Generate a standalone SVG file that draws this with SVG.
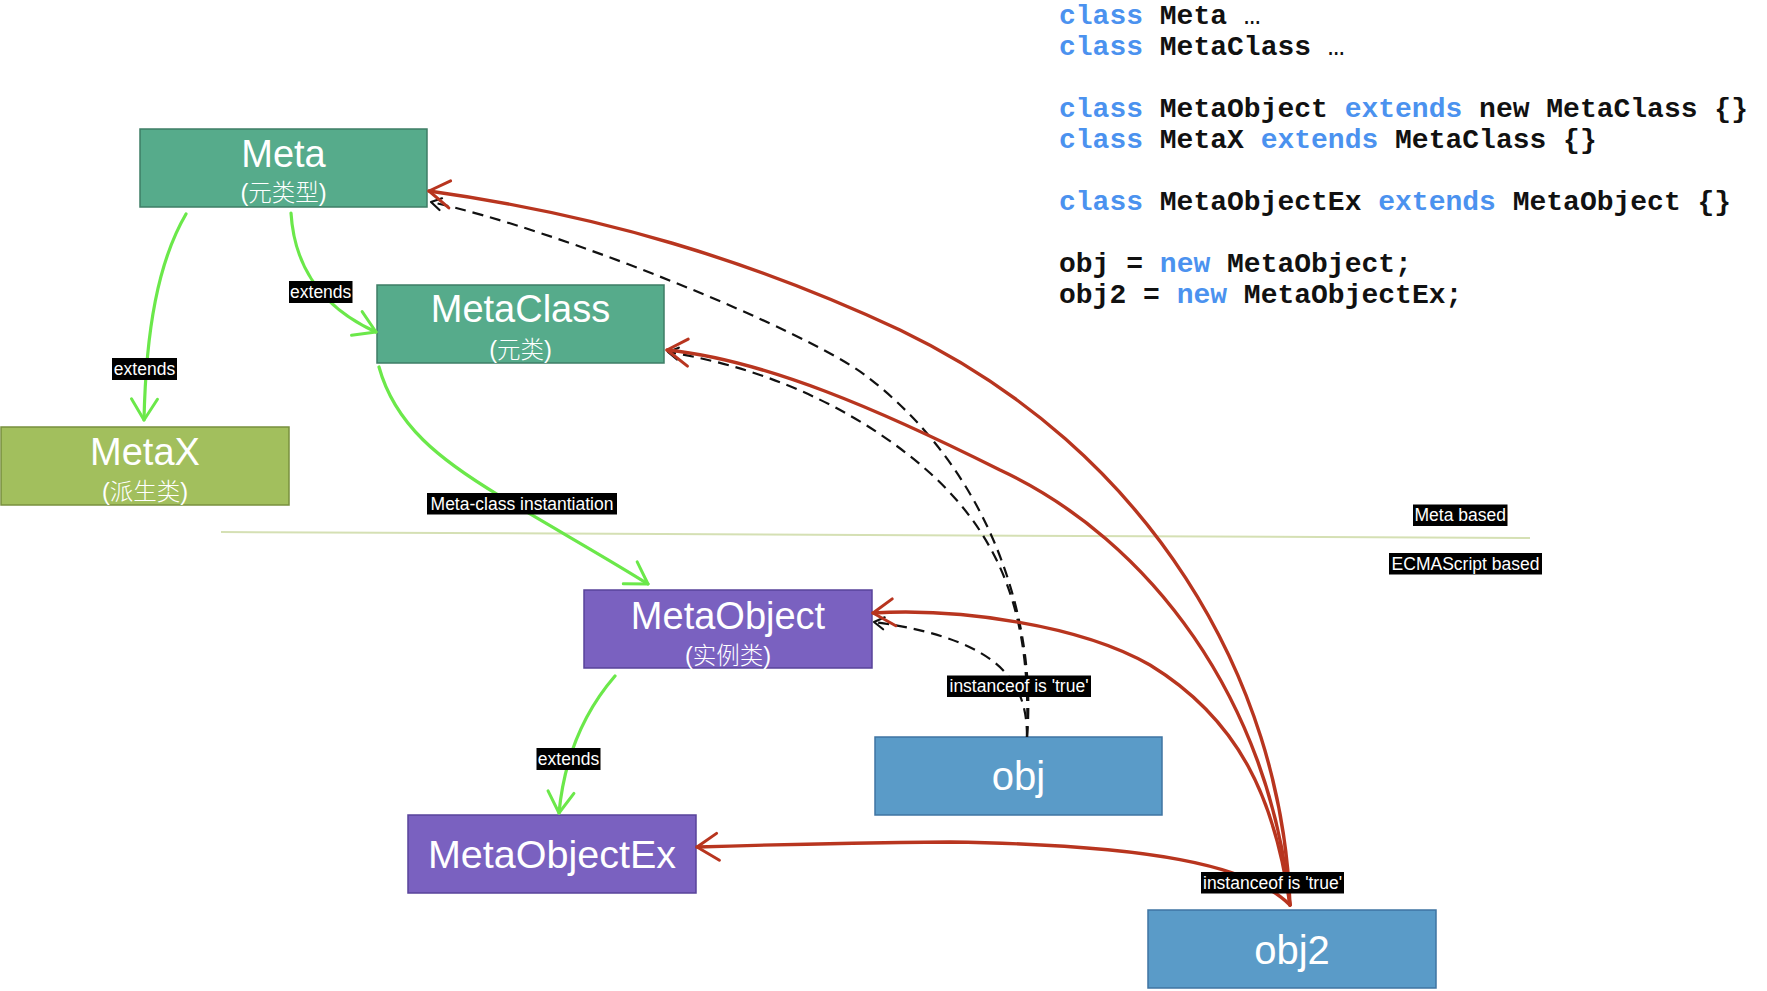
<svg xmlns="http://www.w3.org/2000/svg" width="1767" height="991" viewBox="0 0 1767 991">
<defs>
<style>
.node-title{font-family:"Liberation Sans",Arial,sans-serif;font-size:38px;fill:#fff;text-anchor:middle}
.node-sub{font-family:"Liberation Sans","Noto Sans CJK SC",sans-serif;font-size:23.5px;font-weight:300;fill:#fff;text-anchor:middle}
.green{fill:#56ab8b;stroke:#3e7d66;stroke-width:1.5}
.lime{fill:#a2bf5d;stroke:#78903e;stroke-width:1.5}
.purple{fill:#7a61c0;stroke:#58439a;stroke-width:1.5}
.blue{fill:#5a9bc8;stroke:#3f74a2;stroke-width:1.5}
.ext{fill:none;stroke:#6be84a;stroke-width:3.2;stroke-linecap:round}
.inst{fill:none;stroke:#b8351f;stroke-width:3.4;stroke-linecap:round}
.dash{fill:none;stroke:#111;stroke-width:2.2;stroke-dasharray:11 7}
.lbl-bg{fill:#000}
.lbl{font-family:"Liberation Sans",Arial,sans-serif;font-size:17.5px;fill:#fff;text-anchor:middle}
.code{font-family:"Liberation Mono","Courier New",monospace;font-weight:bold;font-size:28px;fill:#111}
.kw{fill:#4b92ef}
</style>
<marker id="mGreen" markerUnits="userSpaceOnUse" orient="auto" markerWidth="40" markerHeight="40" refX="0" refY="0" viewBox="-30 -20 40 40" overflow="visible">
<path d="M-21,-13 L0,0 L-21,13" fill="none" stroke="#6be84a" stroke-width="3" stroke-linecap="round" stroke-linejoin="round"/>
</marker>
<marker id="mRed" markerUnits="userSpaceOnUse" orient="auto" markerWidth="40" markerHeight="40" refX="0" refY="0" viewBox="-30 -20 40 40" overflow="visible">
<path d="M-22,-14 L0,0 L-20,13" fill="none" stroke="#b8351f" stroke-width="3" stroke-linecap="round" stroke-linejoin="round"/>
</marker>
<marker id="mBlack" markerUnits="userSpaceOnUse" orient="auto" markerWidth="20" markerHeight="20" refX="0" refY="0" viewBox="-15 -10 20 20" overflow="visible">
<path d="M-10,-6 L0,0 L-10,6" fill="none" stroke="#111" stroke-width="2.2" stroke-linecap="round" stroke-linejoin="round"/>
</marker>
</defs>
<rect width="1767" height="991" fill="#fff"/>

<g id="divider">
<line x1="221" y1="532" x2="1530" y2="538" stroke="#d5e0b4" stroke-width="2"/>
</g>

<g id="code">
<text class="code" x="1059" y="24"><tspan class="kw">class</tspan> Meta <tspan style="font-weight:normal">…</tspan></text>
<text class="code" x="1059" y="55"><tspan class="kw">class</tspan> MetaClass <tspan style="font-weight:normal">…</tspan></text>
<text class="code" x="1059" y="117"><tspan class="kw">class</tspan> MetaObject <tspan class="kw">extends</tspan> new MetaClass {}</text>
<text class="code" x="1059" y="148"><tspan class="kw">class</tspan> MetaX <tspan class="kw">extends</tspan> MetaClass {}</text>
<text class="code" x="1059" y="210"><tspan class="kw">class</tspan> MetaObjectEx <tspan class="kw">extends</tspan> MetaObject {}</text>
<text class="code" x="1059" y="272">obj = <tspan class="kw">new</tspan> MetaObject;</text>
<text class="code" x="1059" y="303">obj2 = <tspan class="kw">new</tspan> MetaObjectEx;</text>
</g>

<g id="node-meta">
<rect class="green" x="140" y="129" width="287" height="78"/>
<text class="node-title" x="283.5" y="167">Meta</text>
<text class="node-sub" x="283.5" y="201">(元类型)</text>
</g>
<g id="node-metaclass">
<rect class="green" x="377" y="285" width="287" height="78"/>
<text class="node-title" x="520.5" y="322">MetaClass</text>
<text class="node-sub" x="520.5" y="358">(元类)</text>
</g>
<g id="node-metax">
<rect class="lime" x="1" y="427" width="288" height="78"/>
<text class="node-title" x="145" y="465">MetaX</text>
<text class="node-sub" x="145" y="500">(派生类)</text>
</g>
<g id="node-metaobject">
<rect class="purple" x="584" y="590" width="288" height="78"/>
<text class="node-title" x="728" y="629">MetaObject</text>
<text class="node-sub" x="728" y="664">(实例类)</text>
</g>
<g id="node-metaobjectex">
<rect class="purple" x="408" y="815" width="288" height="78"/>
<text class="node-title" x="552" y="868" style="font-size:39.5px">MetaObjectEx</text>
</g>
<g id="node-obj">
<rect class="blue" x="875" y="737" width="287" height="78"/>
<text class="node-title" x="1018.5" y="790" style="font-size:40px">obj</text>
</g>
<g id="node-obj2">
<rect class="blue" x="1148" y="910" width="288" height="78"/>
<text class="node-title" x="1292" y="964" style="font-size:40px">obj2</text>
</g>

<g id="connectors">
<path class="ext" d="M186,214 C158,262 146,330 144,420" marker-end="url(#mGreen)"/>
<path class="ext" d="M291,213 C294,262 318,306 376,332" marker-end="url(#mGreen)"/>
<path class="ext" d="M379,367 C395,425 440,460 500,496 C560,532 610,560 648,584" marker-end="url(#mGreen)"/>
<path class="ext" d="M615,676 C590,705 565,750 559,813" marker-end="url(#mGreen)"/>

<path class="dash" d="M1027,737 C1037,620 990,470 865,375 C805,330 560,230 431,202" marker-end="url(#mBlack)"/>
<path class="dash" d="M1027,737 C1030,640 1015,550 930,473 C870,419 780,370 668,352" marker-end="url(#mBlack)"/>
<path class="dash" d="M1027,737 C1027,690 1010,640 874,622" marker-end="url(#mBlack)"/>

<path class="inst" d="M1290,905 C1282,680 1150,450 900,330 C750,260 600,215 429,191" marker-end="url(#mRed)"/>
<path class="inst" d="M1290,905 C1270,700 1150,540 1000,470 C880,410 765,360 667,350" marker-end="url(#mRed)"/>
<path class="inst" d="M1290,905 C1275,800 1240,720 1150,665 C1080,625 960,608 873,613" marker-end="url(#mRed)"/>
<path class="inst" d="M1290,905 C1250,865 1150,845 950,842 C850,843 760,845 697,847" marker-end="url(#mRed)"/>

<g id="labels">
<rect class="lbl-bg" x="289" y="281" width="63.5" height="22"/>
<text class="lbl" x="320.7" y="298">extends</text>
<rect class="lbl-bg" x="112" y="358" width="65" height="22"/>
<text class="lbl" x="144.5" y="375">extends</text>
<rect class="lbl-bg" x="536.5" y="748" width="64" height="22"/>
<text class="lbl" x="568.5" y="765">extends</text>
<rect class="lbl-bg" x="427" y="493" width="190" height="21.5"/>
<text class="lbl" x="522" y="510">Meta-class instantiation</text>
<rect class="lbl-bg" x="947" y="675.5" width="144" height="21.5"/>
<text class="lbl" x="1019" y="692">instanceof is 'true'</text>
<rect class="lbl-bg" x="1201" y="872" width="143" height="21.5"/>
<text class="lbl" x="1272.5" y="888.5">instanceof is 'true'</text>
</g>
</g>

<g id="annotations">
<rect class="lbl-bg" x="1413" y="504.5" width="94.5" height="21.5"/>
<text class="lbl" x="1460.2" y="521">Meta based</text>
<rect class="lbl-bg" x="1389" y="553" width="153" height="21.5"/>
<text class="lbl" x="1465.5" y="569.5">ECMAScript based</text>
</g>
</svg>
